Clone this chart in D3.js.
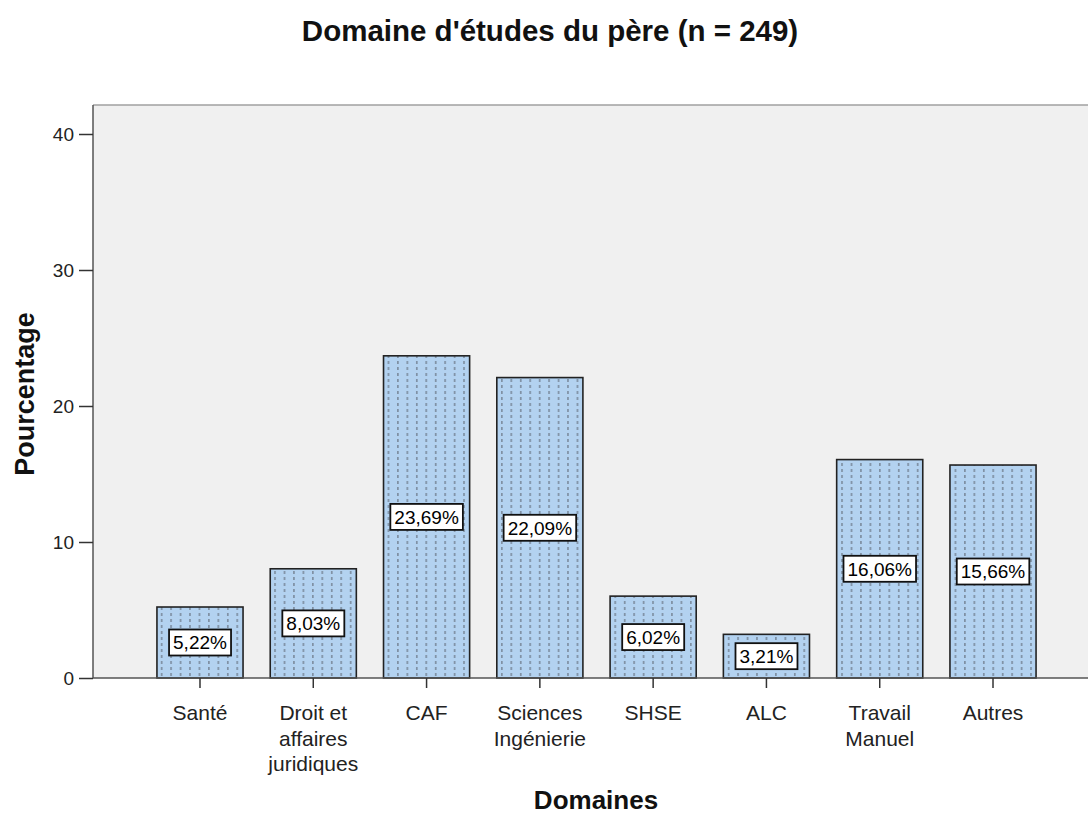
<!DOCTYPE html>
<html lang="fr">
<head>
  <meta charset="UTF-8">
  <title>Domaine d'études du père</title>
  <style>
    body { margin: 0; background: #fff; font-family: "Liberation Sans", Arial, sans-serif; }
    .tick text { font-size: 19px; fill: #222; }
    .domain { display: none; }
  </style>
</head>
<body>
  <div id="chart"></div>
  <script src="https://d3js.org/d3.v7.min.js"></script>
  <script>
    // données
    let categories = [
      ['Santé'],
      ['Droit et', 'affaires', 'juridiques'],
      ['CAF'],
      ['Sciences', 'Ingénierie'],
      ['SHSE'],
      ['ALC'],
      ['Travail', 'Manuel'],
      ['Autres']
    ]
    let values = [5.22, 8.03, 23.69, 22.09, 6.02, 3.21, 16.06, 15.66]
    let yTicks = [0, 10, 20, 30, 40]

    let W = 1088, H = 815
    let pLeft = 93, pRight = 1100, pTop = 105, pBottom = 678

    let svg = d3.select('#chart').append('svg')
      .attr('width', W)
      .attr('height', H)

    // motif pointillé des barres
    let pat = svg.append('defs').append('pattern')
      .attr('id', 'dots')
      .attr('patternUnits', 'userSpaceOnUse')
      .attr('width', 9.45)
      .attr('height', 6)
      .attr('x', 157)
    pat.append('rect').attr('width', 9.45).attr('height', 6).attr('fill', '#b3d2f0')
    pat.append('rect').attr('x', 4).attr('y', 1).attr('width', 1.3).attr('height', 3).attr('fill', '#6f7c8c')

    let y = d3.scaleLinear().domain([0, 40]).range([pBottom, 134])
    let keys = categories.map(c => c.join(' '))
    let x = d3.scaleBand().domain(keys)
      .range([143.35, 1049.65])
      .paddingInner(0.24)
      .paddingOuter(0.12)

    // fond
    svg.append('rect')
      .attr('x', pLeft).attr('y', pTop)
      .attr('width', pRight - pLeft).attr('height', pBottom - pTop)
      .attr('fill', '#f0f0f0')
    svg.append('line')
      .attr('x1', pLeft).attr('x2', pRight).attr('y1', pTop).attr('y2', pTop)
      .attr('stroke', '#a0a0a0').attr('stroke-width', 1.5)
    svg.append('line')
      .attr('x1', pLeft).attr('x2', pLeft).attr('y1', pTop).attr('y2', pBottom)
      .attr('stroke', '#555').attr('stroke-width', 1.5)

    // axe y
    let yAxis = svg.append('g')
      .attr('transform', `translate(${pLeft},0)`)
      .call(d3.axisLeft(y).tickValues(yTicks).tickSize(14).tickPadding(5))
    yAxis.selectAll('.tick line').attr('stroke', '#333').attr('stroke-width', 1.5)

    // barres
    svg.selectAll('.bar')
      .data(values)
      .enter()
      .append('rect')
      .attr('class', 'bar')
      .attr('x', (d, i) => x(keys[i]))
      .attr('y', d => y(d))
      .attr('width', x.bandwidth())
      .attr('height', d => y(0) - y(d))
      .attr('fill', 'url(#dots)')
      .attr('stroke', '#222')
      .attr('stroke-width', 1.6)

    // ligne de base
    svg.append('line')
      .attr('x1', pLeft).attr('x2', pRight).attr('y1', pBottom).attr('y2', pBottom)
      .attr('stroke', '#555').attr('stroke-width', 1.5)

    // axe x
    let xAxis = svg.append('g')
      .attr('transform', `translate(0,${pBottom})`)
      .call(d3.axisBottom(x).tickSize(10).tickFormat(''))
    xAxis.selectAll('.tick line').attr('stroke', '#333').attr('stroke-width', 1.5)
    xAxis.selectAll('.tick').each(function (d, i) {
      let t = d3.select(this).append('text')
        .attr('fill', '#222')
        .attr('text-anchor', 'middle')
        .style('font-size', '21px')
      categories[i].forEach((line, j) => {
        t.append('tspan').attr('x', 0).attr('y', 42 + j * 25.5).text(line)
      })
    })

    // étiquettes
    let fmt = v => v.toFixed(2).replace('.', ',') + '%'
    let labels = svg.selectAll('.lab')
      .data(values)
      .enter()
      .append('g')
      .attr('class', 'lab')
      .attr('transform', (d, i) => `translate(${x(keys[i]) + x.bandwidth() / 2},${(y(d) + y(0)) / 2})`)
    labels.append('text')
      .attr('text-anchor', 'middle')
      .attr('dy', '0.36em')
      .style('font-size', '19px')
      .attr('fill', '#000')
      .text(fmt)
    labels.each(function () {
      let g = d3.select(this)
      let bb = g.select('text').node().getBBox()
      g.insert('rect', 'text')
        .attr('x', bb.x - 4).attr('y', -13)
        .attr('width', bb.width + 8).attr('height', 26)
        .attr('fill', '#fff')
        .attr('stroke', '#111')
        .attr('stroke-width', 1.8)
    })

    // titres
    svg.append('text')
      .attr('x', 550).attr('y', 41)
      .attr('text-anchor', 'middle')
      .style('font-size', '29.5px')
      .style('font-weight', 'bold')
      .attr('fill', '#111')
      .text("Domaine d'études du père (n = 249)")

    svg.append('text')
      .attr('x', 596).attr('y', 809)
      .attr('text-anchor', 'middle')
      .style('font-size', '26px')
      .style('font-weight', 'bold')
      .attr('fill', '#111')
      .text('Domaines')

    svg.append('text')
      .attr('transform', 'translate(34,394) rotate(-90)')
      .attr('text-anchor', 'middle')
      .style('font-size', '27px')
      .style('font-weight', 'bold')
      .attr('fill', '#111')
      .text('Pourcentage')
  </script>
</body>
</html>
